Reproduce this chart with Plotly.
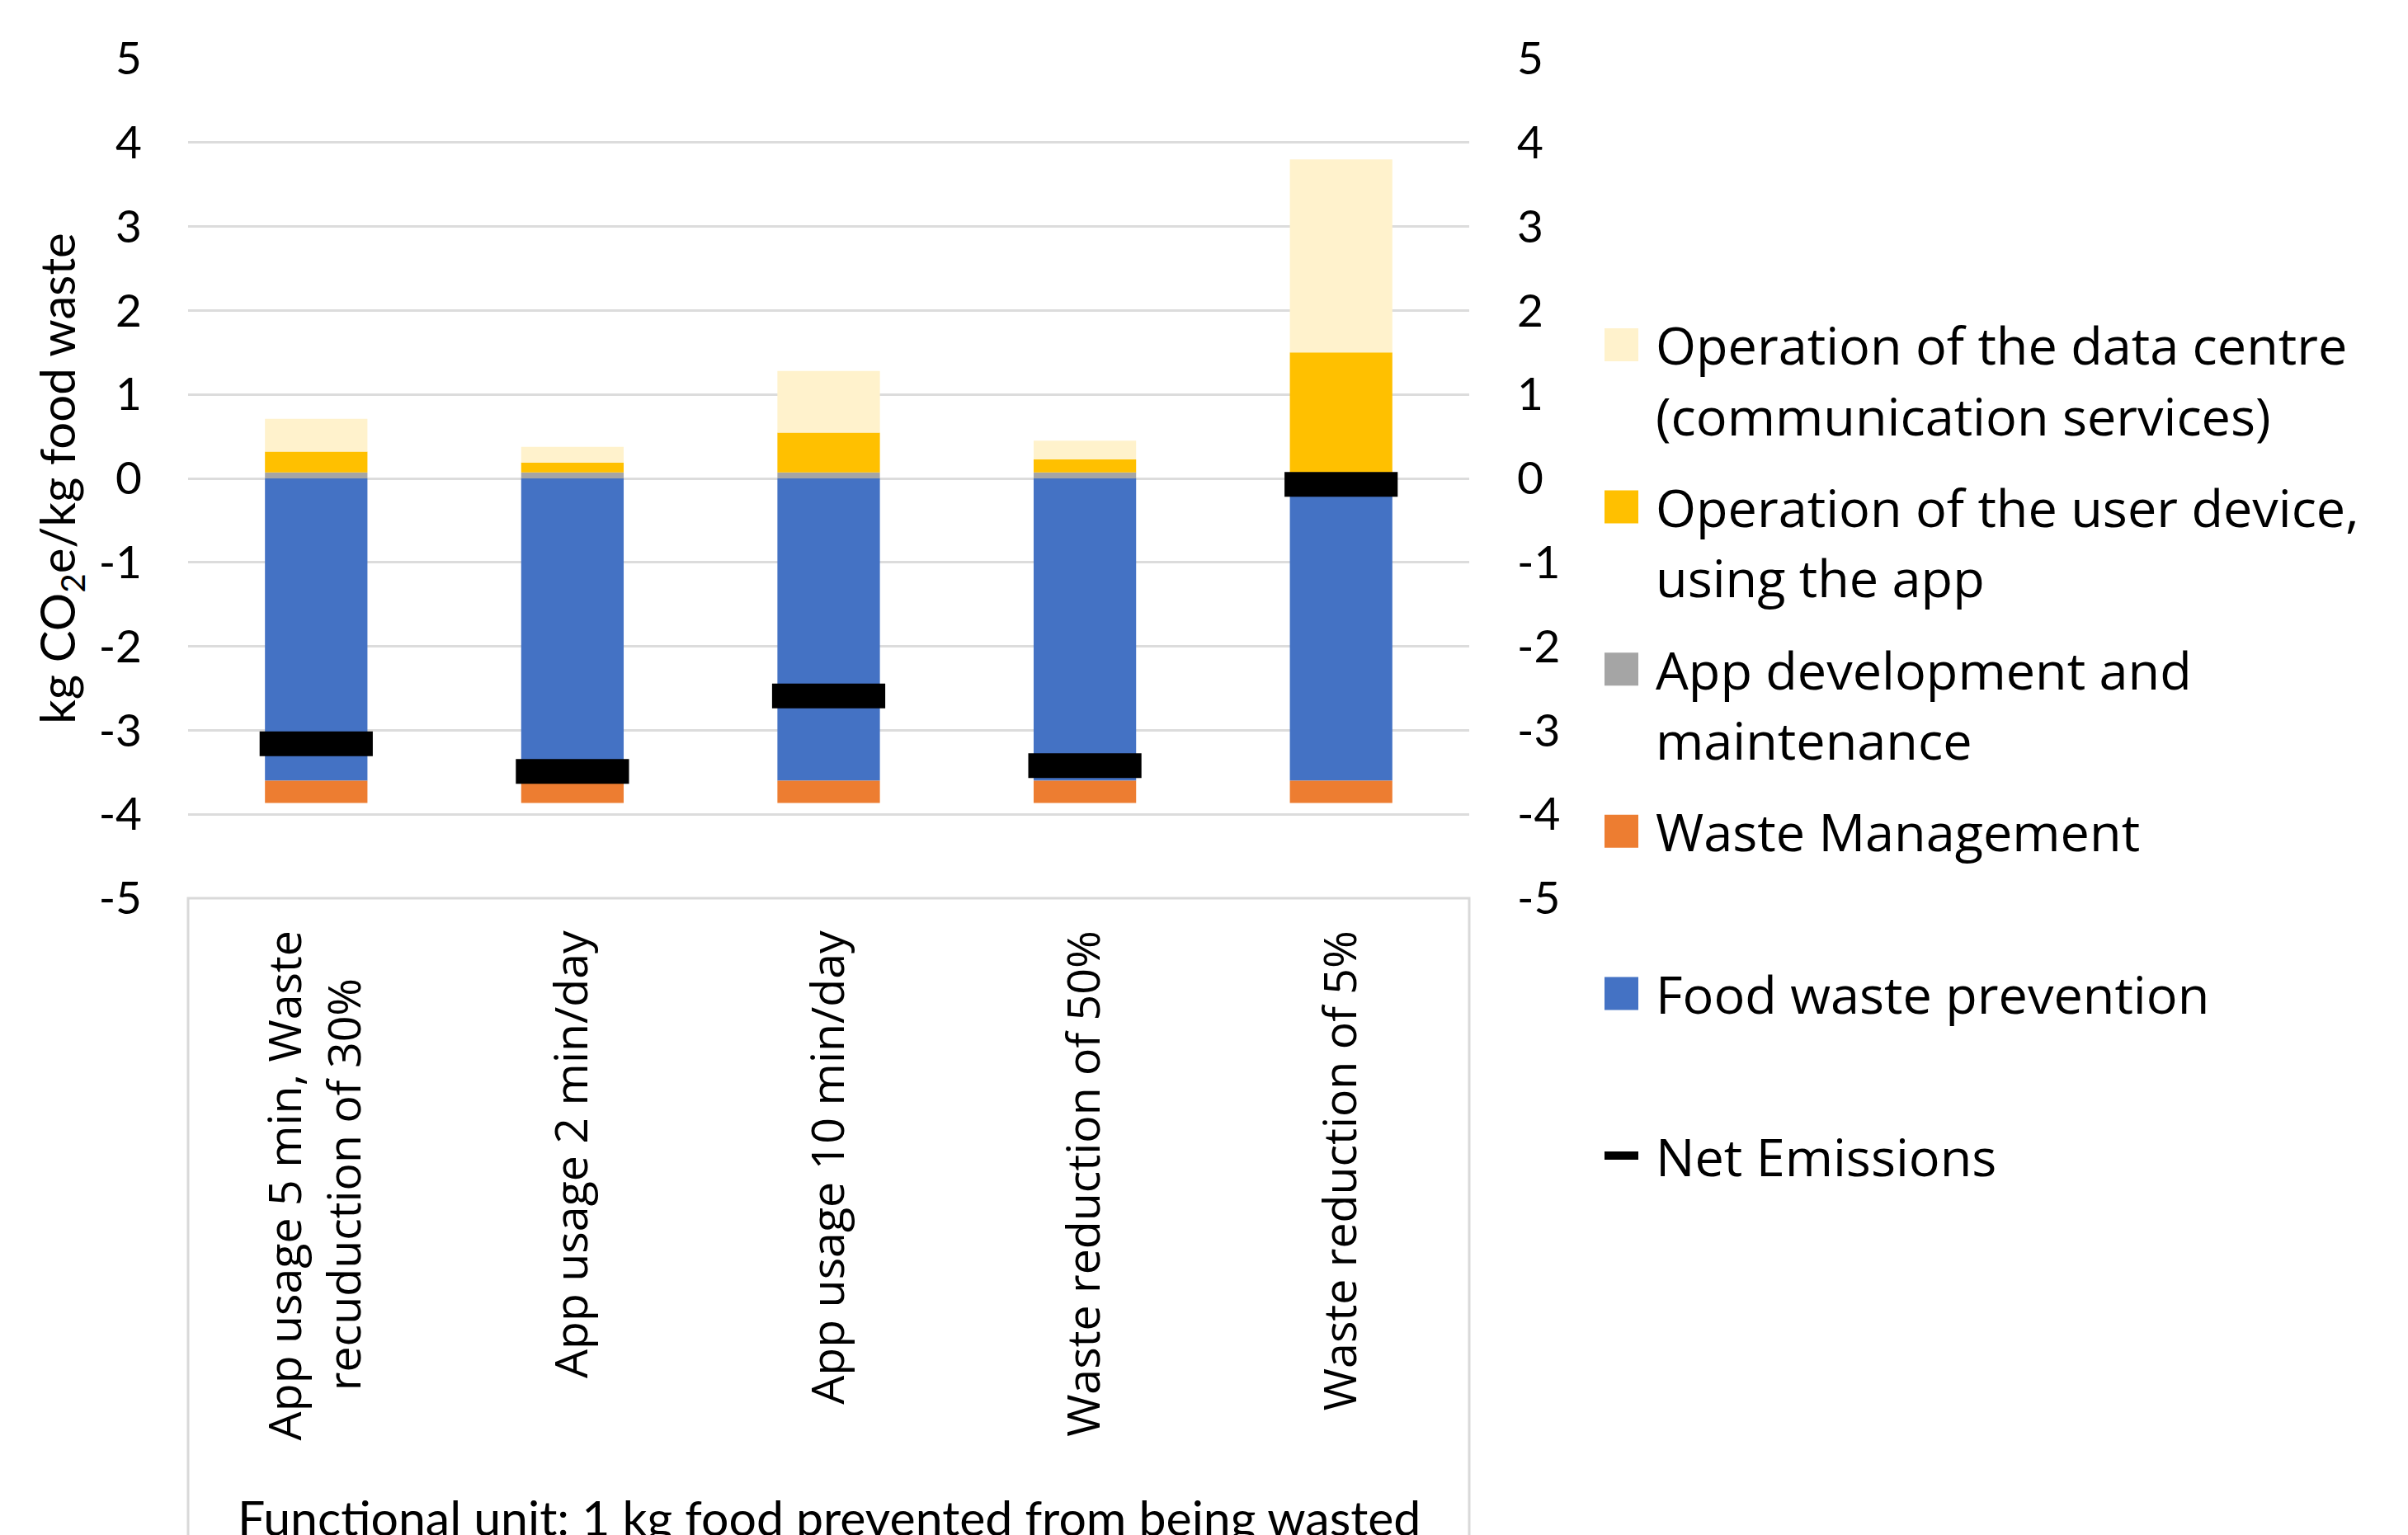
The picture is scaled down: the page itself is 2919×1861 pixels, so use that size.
import plotly.graph_objects as go

# ---------------- data ----------------
categories = [
    "App usage 5 min, Waste<br>recuduction of 30%",
    "App usage 2 min/day",
    "App usage 10 min/day",
    "Waste reduction of 50%",
    "Waste reduction of 5%",
]
food_waste_prevention = [-3.60, -3.60, -3.60, -3.60, -3.60]
waste_management = [-0.265, -0.265, -0.265, -0.265, -0.265]
app_development = [0.07, 0.07, 0.07, 0.07, 0.07]
user_device = [0.25, 0.12, 0.475, 0.155, 1.43]
data_centre = [0.39, 0.186, 0.735, 0.225, 2.30]
net_emissions = [-3.16, -3.49, -2.59, -3.42, -0.07]

y_ticks = [5, 4, 3, 2, 1, 0, -1, -2, -3, -4, -5]

legend_labels = [
    ["Operation of the data centre", "(communication services)"],
    ["Operation of the user device,", "using the app"],
    ["App development and", "maintenance"],
    ["Waste Management"],
    ["Food waste prevention"],
    ["Net Emissions"],
]
colors = {
    "data": "#FFF2CC",
    "device": "#FFC000",
    "dev": "#A5A5A5",
    "wm": "#ED7D31",
    "fwp": "#4472C4",
    "net": "#000000",
}
legend_colors = [colors["data"], colors["device"], colors["dev"], colors["wm"], colors["fwp"], colors["net"]]

# ---------------- layout geometry (px) ----------------
W, H = 2919, 1861
PL, PR, PT, PB = 228, 1781, 71, 1089


def px_x(x):
    return (x - PL) / (PR - PL)


def px_y(y):
    return (PB - y) / (PB - PT)


fig = go.Figure()

bar_series = [
    ("Food waste prevention", food_waste_prevention, colors["fwp"]),
    ("Waste Management", waste_management, colors["wm"]),
    ("App development and maintenance", app_development, colors["dev"]),
    ("Operation of the user device, using the app", user_device, colors["device"]),
    ("Operation of the data centre (communication services)", data_centre, colors["data"]),
]
for name, vals, col in bar_series:
    fig.add_trace(go.Bar(x=categories, y=vals, name=name, marker=dict(color=col, line=dict(width=0)),
                         showlegend=False))

fig.add_trace(go.Scatter(
    x=categories, y=net_emissions, mode="markers", name="Net Emissions", showlegend=False,
    marker=dict(symbol="line-ew", size=98, color="#000000", line=dict(color="#000000", width=30)),
))

# an invisible trace on the secondary axis so the right axis is drawn
fig.add_trace(go.Scatter(x=categories, y=net_emissions, yaxis="y2", mode="markers",
                         marker=dict(opacity=0), showlegend=False, hoverinfo="skip"))

# first label: second line padded so the two lines look centred
tick_labels = [c.replace("30%", "30%&nbsp;&nbsp;&nbsp;&nbsp;") for c in categories]

tick_font = dict(family="Lato", size=55, color="#000000")

fig.update_layout(
    width=W, height=H,
    margin=dict(l=PL, r=W - PR, t=PT, b=H - PB, autoexpand=False),
    paper_bgcolor="white", plot_bgcolor="white",
    barmode="relative", bargap=0.6,
    showlegend=False,
    xaxis=dict(
        type="category", range=[-0.5, 4.5], tickvals=categories, ticktext=tick_labels,
        tickangle=-90, showgrid=False, zeroline=False, showline=False,
        ticks="", tickfont=dict(family="Open Sans", size=55.5, color="#000000"),
        ticklabelstandoff=27, automargin=False,
    ),
    yaxis=dict(
        range=[-5, 5], tickvals=y_ticks, ticktext=[str(v) for v in y_ticks],
        showgrid=True, gridcolor="#DCDCDC", gridwidth=3, zeroline=False, showline=False,
        ticks="", tickfont=tick_font, ticklabelstandoff=55, automargin=False,
        title=dict(text="kg CO<sub>2</sub>e/kg food waste", font=dict(family="Lato", size=58, color="#000000"),
                   standoff=9),
    ),
    yaxis2=dict(
        range=[-5, 5], tickvals=y_ticks, ticktext=[str(v) for v in y_ticks],
        overlaying="y", side="right", showgrid=False, zeroline=False, showline=False,
        ticks="", tickfont=tick_font, ticklabelstandoff=57, automargin=False,
    ),
)

# box under the plot area around the category labels
fig.add_shape(type="rect", xref="paper", yref="paper", x0=0, x1=1, y0=0, y1=px_y(H + 20),
              line=dict(color="#D9D9D9", width=3), fillcolor="rgba(0,0,0,0)", layer="below")

# functional unit note (cut by the bottom edge, as in the source figure)
fig.add_annotation(text="Functional unit: 1 kg food prevented from being wasted",
                   xref="paper", yref="paper", x=0.5, y=px_y(1802), xanchor="center", yanchor="top",
                   showarrow=False, font=dict(family="Lato", size=59, color="#000000"))

# ---------------- custom legend ----------------
LEG_SYM_X0, LEG_SYM_X1 = 1945, 1986
LEG_TEXT_X = 2005
LEG_Y0, LEG_STEP, LINE_GAP = 418, 196.6, 85
for i, (lines, col) in enumerate(zip(legend_labels, legend_colors)):
    yc = LEG_Y0 + i * LEG_STEP
    if i == len(legend_labels) - 1:
        fig.add_shape(type="line", xref="paper", yref="paper",
                      x0=px_x(LEG_SYM_X0), x1=px_x(LEG_SYM_X1), y0=px_y(yc), y1=px_y(yc),
                      line=dict(color=col, width=10))
    else:
        fig.add_shape(type="rect", xref="paper", yref="paper",
                      x0=px_x(LEG_SYM_X0), x1=px_x(LEG_SYM_X1), y0=px_y(yc - 20), y1=px_y(yc + 20),
                      line=dict(width=0), fillcolor=col)
    for j, line in enumerate(lines):
        fig.add_annotation(text=line, xref="paper", yref="paper",
                           x=px_x(LEG_TEXT_X), y=px_y(yc + j * LINE_GAP), xanchor="left", yanchor="middle",
                           showarrow=False, font=dict(family="Open Sans", size=63, color="#000000"))

fig.write_html("out.html")
